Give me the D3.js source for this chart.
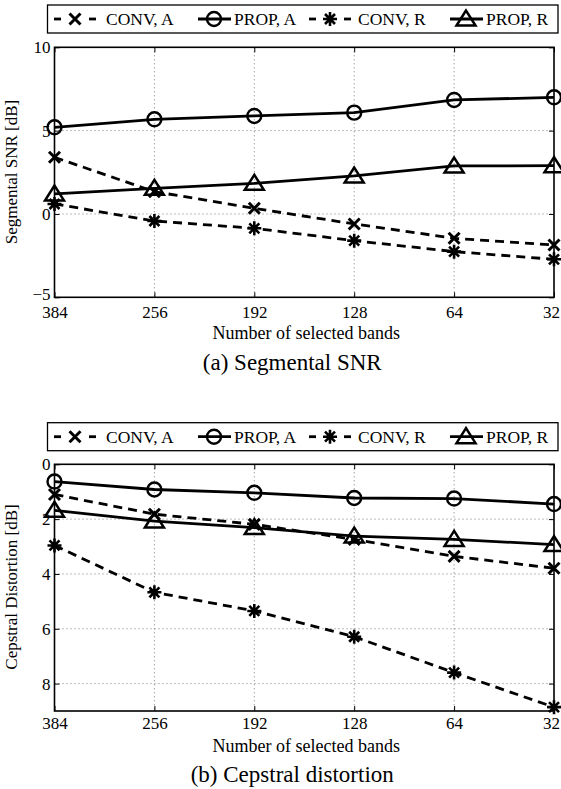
<!DOCTYPE html>
<html>
<head>
<meta charset="utf-8">
<script src="https://cdn.jsdelivr.net/npm/d3@7"></script>
<style>
  html, body { margin: 0; padding: 0; background: #fff; }
  svg { display: block; }
  text { font-family: "Liberation Serif", "Times New Roman", serif; fill: #000; }
</style>
</head>
<body>
<svg id="chart" width="561" height="789"></svg>
<script>
// ---------- data ----------
const categories = ["384", "256", "192", "128", "64", "32"];
const seriesNames = ["CONV, A", "PROP, A", "CONV, R", "PROP, R"];

// (a) Segmental SNR [dB]
const snrConvA = [3.4, 1.34, 0.34, -0.6, -1.46, -1.86];
const snrPropA = [5.2, 5.68, 5.88, 6.08, 6.84, 7.0];
const snrConvR = [0.6, -0.42, -0.86, -1.6, -2.26, -2.72];
const snrPropR = [1.2, 1.54, 1.84, 2.28, 2.88, 2.9];
const snrTicks = [-5, 0, 5, 10];

// (b) Cepstral distortion [dB]
const cdConvA = [1.1, 1.82, 2.19, 2.74, 3.36, 3.79];
const cdPropA = [0.63, 0.92, 1.04, 1.23, 1.25, 1.45];
const cdConvR = [2.96, 4.67, 5.35, 6.29, 7.6, 8.86];
const cdPropR = [1.68, 2.07, 2.31, 2.62, 2.74, 2.93];
const cdTicks = [0, 2, 4, 6, 8];

// ---------- styles ----------
const seriesStyle = [
  { marker: "x", dashed: true },
  { marker: "o", dashed: false },
  { marker: "*", dashed: true },
  { marker: "^", dashed: false }
];

const svg = d3.select("#chart");
const X0 = 54.5, X1 = 554;

function drawMarker(g, type, cx, cy) {
  const m = g.append("g").attr("transform", `translate(${cx},${cy})`)
    .attr("fill", "none").attr("stroke", "#000");
  if (type === "o") {
    m.append("circle").attr("r", 7).attr("stroke-width", 2.4);
  } else if (type === "^") {
    m.append("path").attr("d", "M0,-8.5L-9.5,6.5L9.5,6.5Z").attr("stroke-width", 2.5)
      .attr("stroke-linejoin", "miter");
  } else if (type === "x") {
    const s = 5.5;
    m.append("path").attr("d", `M${-s},${-s}L${s},${s}M${-s},${s}L${s},${-s}`)
      .attr("stroke-width", 3);
  } else if (type === "*") {
    const s = 7, d = 5;
    m.append("path").attr("d",
      `M0,${-s}L0,${s}M${-s},0L${s},0M${-d},${-d}L${d},${d}M${-d},${d}L${d},${-d}`)
      .attr("stroke-width", 2.6);
  }
}

function drawPanel(opts) {
  const { top, bottom, domain, ticks, data, ylabel, ylabelY, xtitleY, captionY, caption, xPad, reversed } = opts;
  const x = d3.scalePoint().domain(categories).range([X0, X1]);
  const y = d3.scaleLinear().domain(domain).range(reversed ? [top, bottom] : [bottom, top]);
  const g = svg.append("g");

  // grid
  const grid = g.append("g").attr("stroke", "#555").attr("stroke-width", 0.8)
    .attr("stroke-dasharray", "1,3");
  categories.slice(1, -1).forEach(c => {
    grid.append("line").attr("x1", x(c)).attr("x2", x(c)).attr("y1", top).attr("y2", bottom);
  });
  ticks.forEach(t => {
    if (t === domain[0] || t === domain[1]) return;
    grid.append("line").attr("x1", X0).attr("x2", X1).attr("y1", y(t)).attr("y2", y(t));
  });

  // axes
  const axL = g.append("g").attr("transform", `translate(${X0},0)`)
    .call(d3.axisLeft(y).tickValues(ticks).tickSize(-5).tickPadding(4));
  const axR = g.append("g").attr("transform", `translate(${X1},0)`)
    .call(d3.axisRight(y).tickValues(ticks).tickSize(-5).tickFormat(""));
  const axB = g.append("g").attr("transform", `translate(0,${bottom})`)
    .call(d3.axisBottom(x).tickSize(-5).tickPadding(xPad));
  const axT = g.append("g").attr("transform", `translate(0,${top})`)
    .call(d3.axisTop(x).tickSize(-5).tickFormat(""));
  [axL, axR, axB, axT].forEach(a => {
    a.select(".domain").remove();
    a.selectAll(".tick line").attr("stroke", "#000").attr("stroke-width", 1);
    a.selectAll("text").attr("font-family", "Liberation Serif").attr("font-size", 17).attr("fill", "#000");
  });
  // label sitting on the lower corner is lifted a little so it clears the x labels
  axL.selectAll(".tick text").filter(d => !reversed && d === domain[0]).attr("dy", "0.1em");
  axB.selectAll(".tick text").filter(d => d === categories[categories.length - 1]).attr("dx", -3);
  g.append("rect").attr("x", X0).attr("y", top).attr("width", X1 - X0).attr("height", bottom - top)
    .attr("fill", "none").attr("stroke", "#000").attr("stroke-width", 1.6);

  // series
  data.forEach((vals, i) => {
    const st = seriesStyle[i];
    const line = d3.line().x((d, j) => x(categories[j])).y(d => y(d));
    g.append("path").datum(vals).attr("d", line).attr("fill", "none")
      .attr("stroke", "#000").attr("stroke-width", 2.8)
      .attr("stroke-dasharray", st.dashed ? "9,6" : null);
    vals.forEach((v, j) => drawMarker(g, st.marker, x(categories[j]), y(v)));
  });

  // labels
  g.append("text").attr("transform", `translate(17,${ylabelY}) rotate(-90)`)
    .attr("text-anchor", "middle").attr("font-size", 17).text(ylabel);
  g.append("text").attr("x", (X0 + X1) / 2 + 2).attr("y", xtitleY)
    .attr("text-anchor", "middle").attr("font-size", 18).text("Number of selected bands");
  g.append("text").attr("x", (X0 + X1) / 2 - 12).attr("y", captionY)
    .attr("text-anchor", "middle").attr("font-size", 23).text(caption);
}

function drawLegend(top) {
  const g = svg.append("g");
  g.append("rect").attr("x", 47.5).attr("y", top).attr("width", 510.5).attr("height", 28)
    .attr("fill", "#fff").attr("stroke", "#000").attr("stroke-width", 1.3);
  const cy = top + 14;
  const markerX = [75, 214, 330, 466];
  const textX = [106, 234, 358, 486];
  seriesNames.forEach((name, i) => {
    const st = seriesStyle[i];
    const mx = markerX[i];
    if (st.dashed) {
      g.append("line").attr("x1", mx - 21).attr("x2", mx - 14).attr("y1", cy).attr("y2", cy)
        .attr("stroke", "#000").attr("stroke-width", 2.8);
      g.append("line").attr("x1", mx + 14).attr("x2", mx + 21).attr("y1", cy).attr("y2", cy)
        .attr("stroke", "#000").attr("stroke-width", 2.8);
    } else {
      g.append("line").attr("x1", mx - 16).attr("x2", mx + 17).attr("y1", cy).attr("y2", cy)
        .attr("stroke", "#000").attr("stroke-width", 2.8);
    }
    drawMarker(g, st.marker, mx, cy);
    g.append("text").attr("x", textX[i]).attr("y", cy + 6).attr("font-size", 17.5).text(name);
  });
}

drawLegend(5);
drawPanel({
  top: 47.3, bottom: 297.3, domain: [-5, 10], ticks: snrTicks,
  data: [snrConvA, snrPropA, snrConvR, snrPropR],
  ylabel: "Segmental SNR [dB]", ylabelY: 172, xtitleY: 338.5, captionY: 370,
  caption: "(a) Segmental SNR", xPad: 8.5, reversed: false
});

drawLegend(422.7);
drawPanel({
  top: 464.3, bottom: 711, domain: [0, 9], ticks: cdTicks,
  data: [cdConvA, cdPropA, cdConvR, cdPropR],
  ylabel: "Cepstral Distortion [dB]", ylabelY: 587, xtitleY: 752, captionY: 781.5,
  caption: "(b) Cepstral distortion", xPad: 6, reversed: true
});
</script>
</body>
</html>
